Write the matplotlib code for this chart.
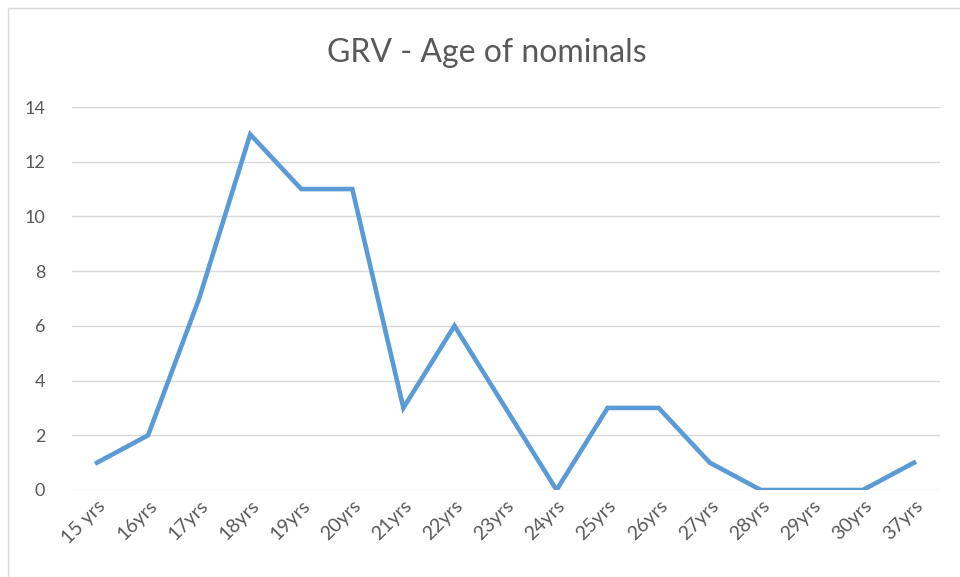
import matplotlib
matplotlib.use("Agg")
import matplotlib.pyplot as plt
from matplotlib.patches import Rectangle

categories = ["15 yrs", "16yrs", "17yrs", "18yrs", "19yrs", "20yrs", "21yrs", "22yrs", "23yrs",
              "24yrs", "25yrs", "26yrs", "27yrs", "28yrs", "29yrs", "30yrs", "37yrs"]
values = [1, 2, 7, 13, 11, 11, 3, 6, 3, 0, 3, 3, 1, 0, 0, 0, 1]
yticks = [0, 2, 4, 6, 8, 10, 12, 14]

plt.rcParams['font.family'] = ['Lato', 'DejaVu Sans']
W, H = 960, 577
fig = plt.figure(figsize=(W / 100, H / 100), dpi=100)
fig.patch.set_facecolor('white')

# outer chart border
fig.add_artist(Rectangle((8 / W, -0.01), (W - 6) / W, 1 - 8 / H + 0.01,
                         transform=fig.transFigure, fill=False,
                         edgecolor='#D9D9D9', lw=1.0))

left, right = 71.5 / W, 939.5 / W
bottom, top = 1 - 490 / H, 1 - 107 / H
ax = fig.add_axes([left, bottom, right - left, top - bottom])

x = list(range(len(categories)))
ax.plot(x, values, color='#5B9BD5', lw=3.3, solid_joinstyle='miter', zorder=3)

ax.set_xlim(-0.5, len(categories) - 0.5)
ax.set_ylim(0, 14)
ax.set_yticks(yticks)
ax.set_yticklabels([str(v) for v in yticks], color='#595959', fontsize=13)
ax.set_xticks(x)
ax.set_xticklabels(categories, rotation=45, ha='right', rotation_mode='anchor',
                   color='#595959', fontsize=14)
ax.tick_params(axis='both', length=0)
ax.tick_params(axis='y', pad=19)
ax.tick_params(axis='x', pad=5)
ax.grid(axis='y', color='#D9D9D9', lw=1.0, zorder=0)
for s in ax.spines.values():
    s.set_visible(False)

fig.text(487 / W, 1 - 53 / H, "GRV - Age of nominals", ha='center', va='center',
         fontsize=23, color='#595959')

fig.savefig("out.png", dpi=100)
